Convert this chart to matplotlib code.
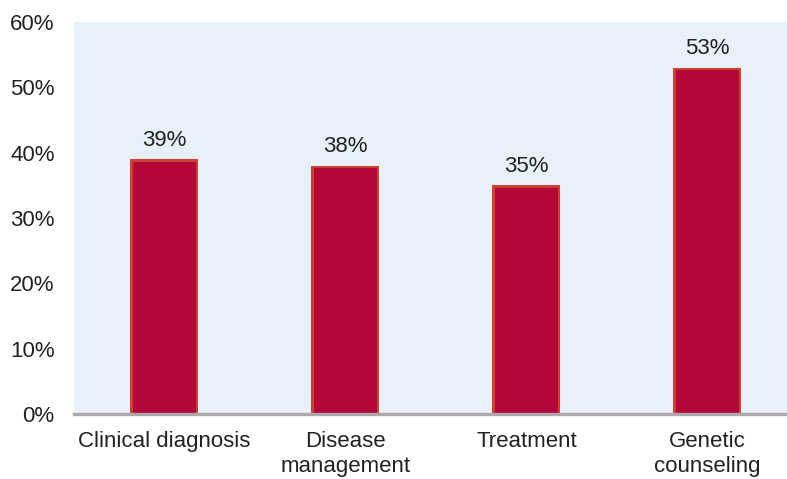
import matplotlib.pyplot as plt
from matplotlib.ticker import PercentFormatter

plt.rcParams['font.family'] = ['Liberation Sans', 'DejaVu Sans']

categories = ['Clinical diagnosis', 'Disease\nmanagement', 'Treatment', 'Genetic\ncounseling']
values = [39, 38, 35, 53]
y_ticks = [0, 10, 20, 30, 40, 50, 60]

fig = plt.figure(figsize=(7.87, 4.79), dpi=100)
ax = fig.add_axes([0.094, 0.1357, 0.906, 0.8183])
ax.set_facecolor('#E8F1F9')

x = range(len(categories))
# outer glow edge, then the crimson body on top
ax.bar(x, values, width=0.376, color='#D0402F', linewidth=0, zorder=3)
ax.bar(x, [v - 0.35 for v in values], width=0.35, color='#B40839',
       linewidth=0, zorder=3)
for xi, v in zip(x, values):
    ax.annotate(f'{v}%', (xi, v), xytext=(0, 6),
                textcoords='offset points', ha='center', va='bottom',
                fontsize=16, color='#222222')

ax.set_xlim(-0.5, 3.44)
ax.set_ylim(0, 60)
ax.set_yticks(y_ticks)
ax.yaxis.set_major_formatter(PercentFormatter(decimals=0))
ax.set_xticks(list(x))
ax.set_xticklabels(categories, linespacing=1.25)
ax.tick_params(axis='both', length=0, labelsize=16, colors='#222222')
ax.tick_params(axis='y', pad=14)
ax.tick_params(axis='x', pad=12)

for s in ['top', 'right', 'left']:
    ax.spines[s].set_visible(False)
ax.spines['bottom'].set_color('#ABABAB')
ax.spines['bottom'].set_linewidth(2.4)
ax.spines['bottom'].set_zorder(4)

fig.savefig('out.png', dpi=100)
